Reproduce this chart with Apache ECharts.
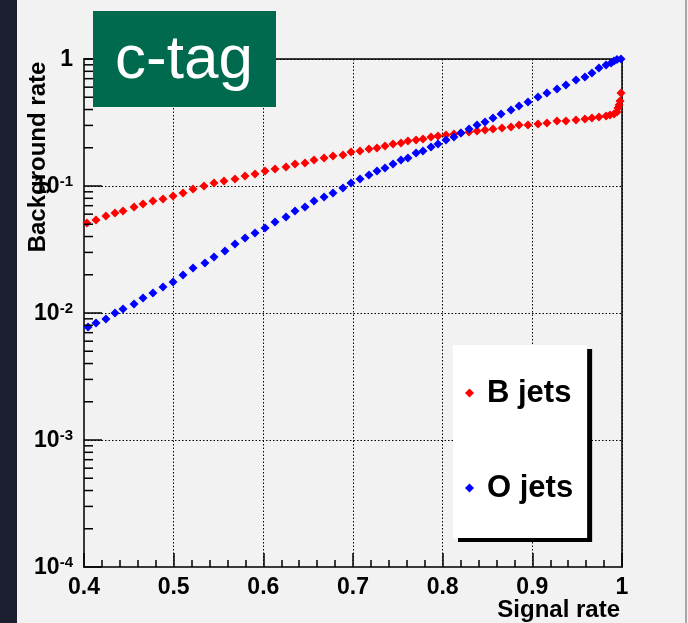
<!DOCTYPE html>
<html>
<head>
<meta charset="utf-8">
<script src="https://cdn.jsdelivr.net/npm/echarts@6/dist/echarts.min.js"></script>
<style>
  html, body { margin: 0; padding: 0; background: #f2f2f2; }
  #wrap { position: relative; width: 688px; height: 623px; overflow: hidden; }
  #strip { position: absolute; left: 0; top: 0; width: 17px; height: 623px; background: #1c1f30; }
  #edge { position: absolute; left: 685px; top: 0; width: 2px; height: 623px; background: #a8a8a8; }
  #chart { position: absolute; left: 0; top: 0; width: 688px; height: 623px; }
</style>
</head>
<body>
<div id="wrap">
  <div id="chart"></div>
  <div id="strip"></div>
  <div id="edge"></div>
</div>
<script>
// signal rate (x) / background rate (y)
var bSignal = [0.4033, 0.4134, 0.4245, 0.4346, 0.4435, 0.4558, 0.4658, 0.4769, 0.4881, 0.4993,
    0.5104, 0.5216, 0.5338, 0.5450, 0.5561, 0.5684, 0.5796, 0.5907, 0.6019, 0.6130,
    0.6253, 0.6353, 0.6465, 0.6565, 0.6677, 0.6777, 0.6888, 0.6978, 0.7078, 0.7178,
    0.7268, 0.7357, 0.7446, 0.7535, 0.7613, 0.7703, 0.7781, 0.7870, 0.7948, 0.8037,
    0.8126, 0.8204, 0.8294, 0.8383, 0.8472, 0.8561, 0.8662, 0.8762, 0.8851, 0.8952,
    0.9063, 0.9163, 0.9275, 0.9375, 0.9487, 0.9587, 0.9665, 0.9743, 0.9822, 0.9866,
    0.9911, 0.9944, 0.9955, 0.9967, 0.9978, 0.9989];
var bBackground = [0.0511, 0.0540, 0.0580, 0.0613, 0.0636, 0.0684, 0.0722, 0.0762, 0.0790, 0.0834,
    0.0881, 0.0947, 0.1000, 0.1056, 0.1095, 0.1135, 0.1199, 0.1243, 0.1313, 0.1361,
    0.1412, 0.1491, 0.1519, 0.1602, 0.1661, 0.1722, 0.1754, 0.1852, 0.1886, 0.1956,
    0.1993, 0.2066, 0.2142, 0.2182, 0.2262, 0.2304, 0.2346, 0.2432, 0.2477, 0.2522,
    0.2568, 0.2615, 0.2663, 0.2712, 0.2761, 0.2812, 0.2863, 0.2916, 0.3022, 0.3022,
    0.3078, 0.3134, 0.3249, 0.3249, 0.3309, 0.3370, 0.3431, 0.3494, 0.3558, 0.3623,
    0.3689, 0.3825, 0.4113, 0.4345, 0.4668, 0.5398];

var oSignal = [0.4045, 0.4134, 0.4245, 0.4346, 0.4435, 0.4558, 0.4658, 0.4769, 0.4881, 0.4993,
    0.5104, 0.5216, 0.5349, 0.5450, 0.5572, 0.5684, 0.5796, 0.5907, 0.6019, 0.6130,
    0.6253, 0.6353, 0.6465, 0.6565, 0.6677, 0.6777, 0.6888, 0.6978, 0.7078, 0.7178,
    0.7268, 0.7357, 0.7446, 0.7535, 0.7613, 0.7703, 0.7781, 0.7870, 0.7948, 0.8037,
    0.8126, 0.8204, 0.8294, 0.8383, 0.8472, 0.8561, 0.8651, 0.8762, 0.8851, 0.8952,
    0.9063, 0.9163, 0.9275, 0.9375, 0.9487, 0.9587, 0.9665, 0.9743, 0.9822, 0.9878,
    0.9911, 0.9944, 0.9989];
var oBackground = [0.00776, 0.00834, 0.00897, 0.0100, 0.01075, 0.01177, 0.01313, 0.01437, 0.01602, 0.01754,
    0.01991, 0.02262, 0.02476, 0.02761, 0.03078, 0.03493, 0.03896, 0.04266, 0.04667, 0.05206,
    0.05702, 0.0636, 0.06839, 0.0762, 0.08185, 0.0881, 0.09643, 0.1056, 0.1135, 0.1222,
    0.1313, 0.1387, 0.1491, 0.1602, 0.1661, 0.1818, 0.1886, 0.2028, 0.2142, 0.2304,
    0.2432, 0.2615, 0.2812, 0.3022, 0.3192, 0.3431, 0.3689, 0.3966, 0.4265, 0.4584,
    0.5022, 0.5398, 0.5805, 0.6240, 0.6835, 0.7215, 0.7757, 0.8494, 0.8970, 0.9300,
    0.9644, 0.9900, 1.0000];

var seriesNames = ['B jets', 'O jets'];
var yMinorDecades = [1e-4, 1e-3, 1e-2, 1e-1];

function pairs(xs, ys) {
    return xs.map(function (x, i) { return [x, ys[i]]; });
}

var font = 'Liberation Sans, Arial, sans-serif';
var chart = echarts.init(document.getElementById('chart'));

var option = {
    backgroundColor: '#f2f2f2',
    animation: false,
    grid: {
        left: 84, top: 59, width: 538, height: 508,
        show: true, borderColor: '#3a3a3a', borderWidth: 2, backgroundColor: 'transparent'
    },
    xAxis: {
        type: 'value', min: 0.4, max: 1, interval: 0.1,
        axisLine: { lineStyle: { color: '#3a3a3a', width: 2 } },
        axisTick: { inside: true, length: 14, lineStyle: { color: '#000', width: 1.5 } },
        minorTick: { show: true, splitNumber: 5, length: 7, lineStyle: { color: '#000', width: 1.5 } },
        splitLine: { show: true, lineStyle: { color: '#000', type: [1.5, 2], width: 1 } },
        axisLabel: {
            color: '#000', fontWeight: 'bold', fontSize: 23, fontFamily: font, margin: 9,
            formatter: function (v) { return v === 1 ? '1' : v.toFixed(1); }
        }
    },
    yAxis: {
        type: 'log', logBase: 10, min: 1e-4, max: 1,
        axisLine: { lineStyle: { color: '#3a3a3a', width: 2 } },
        axisTick: { inside: true, length: 18, lineStyle: { color: '#000', width: 1.5 } },
        splitLine: { show: true, lineStyle: { color: '#000', type: [1.5, 2], width: 1 } },
        axisLabel: {
            color: '#000', fontWeight: 'bold', fontFamily: font, margin: 11,
            formatter: function (v) {
                var e = Math.round(Math.log10(v));
                if (e === 0) return '{b|1}';
                return '{b|10}{s|' + e + '}';
            },
            rich: {
                b: { fontSize: 23, fontWeight: 'bold', fontFamily: font, color: '#000', verticalAlign: 'bottom', lineHeight: 24 },
                s: { fontSize: 15, fontWeight: 'bold', fontFamily: font, color: '#000', verticalAlign: 'top', lineHeight: 16, padding: [0, 0, 8, 0] }
            }
        }
    },
    legend: {
        orient: 'vertical', left: 453, top: 345,
        backgroundColor: '#ffffff',
        padding: [31, 14, 33, 12],
        itemGap: 61, itemWidth: 9, itemHeight: 9,
        shadowColor: '#000', shadowBlur: 0, shadowOffsetX: 5, shadowOffsetY: 4,
        textStyle: { color: '#000', fontWeight: 'bold', fontSize: 31, fontFamily: font, lineHeight: 34, padding: [0, 0, 0, 8] },
        data: seriesNames.map(function (n) { return { name: n, icon: 'diamond' }; })
    },
    series: [
        {
            name: seriesNames[0], type: 'scatter', symbol: 'diamond', symbolSize: [9, 9],
            itemStyle: { color: '#ff0000', opacity: 1 }, clip: false,
            data: pairs(bSignal, bBackground)
        },
        {
            name: seriesNames[1], type: 'scatter', symbol: 'diamond', symbolSize: [9, 9],
            itemStyle: { color: '#0000ff', opacity: 1 }, clip: false,
            data: pairs(oSignal, oBackground)
        }
    ]
};
chart.setOption(option);

// log-axis minor ticks (2..9 of each decade) and the text furniture
var graphics = [];
yMinorDecades.forEach(function (d) {
    for (var k = 2; k <= 9; k++) {
        var p = chart.convertToPixel({ gridIndex: 0 }, [0.4, d * k]);
        graphics.push({
            type: 'line', silent: true, z: 5,
            shape: { x1: p[0], y1: p[1], x2: p[0] + 9, y2: p[1] },
            style: { stroke: '#000', lineWidth: 1.5 }
        });
    }
});
graphics.push({
    type: 'rect', z: 10,
    shape: { x: 93, y: 11, width: 183, height: 96 },
    style: { fill: '#006a4e' }
});
graphics.push({
    type: 'text', z: 11, x: 184, y: 61,
    style: { text: 'c-tag', fill: '#fff', font: '62px ' + font, align: 'center', verticalAlign: 'middle', textAlign: 'center', textVerticalAlign: 'middle' }
});
graphics.push({
    type: 'text', z: 11, x: 620, y: 610,
    style: { text: 'Signal rate', fill: '#000', font: 'bold 24px ' + font, align: 'right', verticalAlign: 'middle', textAlign: 'right', textVerticalAlign: 'middle' }
});
graphics.push({
    type: 'text', z: 11, x: 38, y: 157, rotation: Math.PI / 2,
    style: { text: 'Background rate', fill: '#000', font: 'bold 24px ' + font, align: 'center', verticalAlign: 'middle', textAlign: 'center', textVerticalAlign: 'middle' }
});
chart.setOption({ graphic: graphics });
</script>
</body>
</html>
